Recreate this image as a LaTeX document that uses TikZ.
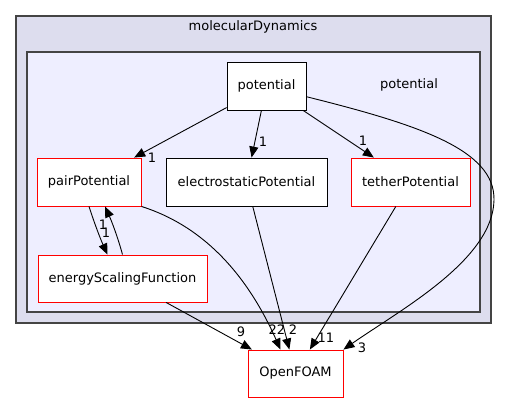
\documentclass[tikz,border=0pt]{standalone}
\usepackage{fontspec}
\setmainfont{DejaVu Sans}
\usepackage{tikz}
\usetikzlibrary{arrows.meta,positioning,calc}
\definecolor{outerfill}{HTML}{DDDDEE}
\definecolor{innerfill}{HTML}{EEEEFF}
\definecolor{clusterline}{HTML}{444444}
\definecolor{dirred}{HTML}{FF0000}

\begin{document}
\begin{tikzpicture}[x=1pt,y=-1pt,
    font=\fontsize{13}{15}\selectfont,
    dir/.style={draw=black,fill=white,line width=0.9pt,minimum height=48pt,inner sep=0pt},
    reddir/.style={dir,draw=dirred},
    dep/.style={-{Triangle[length=11pt,width=9pt]},line width=0.9pt},
    lbl/.style={inner sep=0pt}]
        \useasboundingbox (0,0) rectangle (507,404);
        \draw[clusterline,fill=outerfill,line width=1.3pt] (16,16) rectangle (491,323);
        \draw[clusterline,fill=innerfill,line width=1.3pt] (27,52) rectangle (480,312);
        \node (mdtitle) at (253,27) {molecularDynamics};
        \node (pottitle) at (409,85) {potential};
        \node[dir,minimum width=79pt] (potential) at (266.5,86) {potential};
        \node[reddir,minimum width=104pt] (pairPotential) at (89,182) {pairPotential};
        \node[dir,minimum width=161pt] (electrostaticPotential) at (246.5,182) {electrostaticPotential};
        \node[reddir,minimum width=119pt] (tetherPotential) at (410.5,182) {tetherPotential};
        \node[reddir,minimum width=169pt,minimum height=47pt] (energyScalingFunction) at (122.5,278.5) {energyScalingFunction};
        \node[reddir,minimum width=95pt,minimum height=47pt] (OpenFOAM) at (295.5,373.5) {OpenFOAM};
        \draw[dep] (potential) -- (pairPotential);
        \draw[dep] (potential) -- (electrostaticPotential);
        \draw[dep] (potential) -- (tetherPotential);
        \draw[dep] (potential.-15) .. controls (420,125) and (495,150) .. (494,200)
            .. controls (493,260) and (400,310) .. (OpenFOAM.north east);
        \draw[dep] (pairPotential.south) .. controls (94,222) and (100,238) .. ([xshift=-15pt]energyScalingFunction.north);
        \draw[dep] ([xshift=0pt]energyScalingFunction.north) .. controls (118,238) and (112,222) .. ([xshift=16pt]pairPotential.south);
        \draw[dep] (pairPotential.south east) .. controls (200,225) and (245,270) .. ([xshift=-15pt]OpenFOAM.north);
        \draw[dep] (electrostaticPotential) -- (OpenFOAM);
        \draw[dep] (tetherPotential) -- (OpenFOAM);
        \draw[dep] (energyScalingFunction) -- (OpenFOAM);
        \node[lbl] (l1) at (152,158) {1};
        \node[lbl] (l2) at (263,142) {1};
        \node[lbl] (l3) at (363,141) {1};
        \node[lbl] (l4) at (106,233) {1};
        \node[lbl] (l5) at (103,225) {1};
        \node[lbl] (l6) at (277,330) {22};
        \node[lbl] (l7) at (293,330) {2};
        \node[lbl] (l8) at (326,338) {11};
        \node[lbl] (l9) at (241,332) {9};
        \node[lbl] (l10) at (362,348) {3};
      \end{tikzpicture}
\end{document}
